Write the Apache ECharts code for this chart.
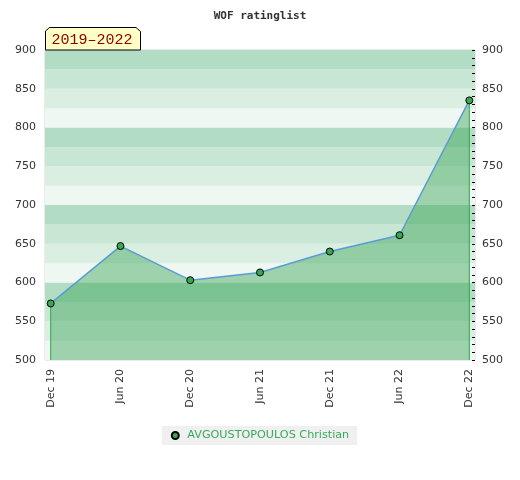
<!DOCTYPE html>
<html>
<head>
<meta charset="utf-8">
<style>
html,body{margin:0;padding:0;background:#fff;}
#chart{width:520px;height:480px;}
</style>
<script src="https://cdn.jsdelivr.net/npm/echarts@6/dist/echarts.min.js"></script>
</head>
<body>
<div id="chart"></div>
<script>
const categories = ['Dec 19', 'Jun 20', 'Dec 20', 'Jun 21', 'Dec 21', 'Jun 22', 'Dec 22'];
const ratings = [573, 647, 603, 613, 640, 661, 835];
const playerName = 'AVGOUSTOPOULOS Christian';
const chartTitle = 'WOF ratinglist';
const periodLabel = '2019–2022';
const yMin = 500;
const yMax = 900;
const bandColors = ['#eef7f2', '#dbeee2', '#c8e6d4', '#b3dcc4'];

const last = categories.length - 1;
const leftEdge = [[categories[0], yMin], [categories[0], ratings[0]]];
const rightEdge = [[categories[last], yMin], [categories[last], ratings[last]]];

const chart = echarts.init(document.getElementById('chart'), null, {renderer: 'canvas'});
const grid0 = {left: 45, right: 45, top: 50, bottom: 120};
chart.setOption({
  animation: false,
  title: {
    text: chartTitle,
    left: 'center',
    top: 6,
    textStyle: {fontFamily: 'DejaVu Sans Mono', fontWeight: 'bold', fontSize: 11, color: '#333'}
  },
  grid: [
    Object.assign({show: true, borderColor: '#d6d6d6', borderWidth: 1, backgroundColor: 'transparent'}, grid0),
    {left: 50.7, right: 50.7, top: 50, bottom: 120}
  ],
  xAxis: [
    {gridIndex: 0, type: 'value', min: 0, max: 1, show: false},
    {
      gridIndex: 1, type: 'category', data: categories, boundaryGap: false,
      axisLine: {show: false}, axisTick: {show: false}, splitLine: {show: false},
      axisLabel: {rotate: 90, margin: 9, color: '#333', fontFamily: 'DejaVu Sans', fontSize: 11, interval: 0}
    }
  ],
  yAxis: [
    {
      gridIndex: 0, type: 'value', min: yMin, max: yMax, interval: 25, position: 'left',
      axisLine: {show: false}, axisTick: {show: false}, splitLine: {show: false},
      splitArea: {show: true, areaStyle: {color: bandColors}},
      axisLabel: {interval: 1, margin: 9, color: '#333', fontFamily: 'DejaVu Sans', fontSize: 11,
        formatter: v => (v % 50 === 0 ? String(v) : '')}
    },
    {
      gridIndex: 0, type: 'value', min: yMin, max: yMax, interval: 10, position: 'right',
      axisLine: {show: false}, splitLine: {show: false}, splitArea: {show: false},
      axisTick: {show: true, inside: true, length: 3, lineStyle: {color: '#000', width: 1}},
      axisLabel: {margin: 7, color: '#333', fontFamily: 'DejaVu Sans', fontSize: 11,
        formatter: v => (v % 50 === 0 ? String(v) : '')}
    },
    {gridIndex: 1, type: 'value', min: yMin, max: yMax, show: false}
  ],
  legend: {
    data: [playerName],
    bottom: 35,
    left: 'center',
    backgroundColor: '#f0f0f0',
    padding: [4, 8, 4, 9],
    itemWidth: 14,
    itemHeight: 7,
    icon: 'circle',
    textStyle: {color: '#3aaa5c', fontFamily: 'DejaVu Sans', fontSize: 11.2}
  },
  series: [
    {
      name: playerName,
      type: 'line',
      xAxisIndex: 1, yAxisIndex: 2,
      data: ratings,
      symbol: 'circle',
      symbolSize: 7,
      itemStyle: {color: '#34a853', borderColor: '#000', borderWidth: 1},
      lineStyle: {color: '#5b9bd5', width: 1.5},
      areaStyle: {color: 'rgba(57,164,87,0.45)', opacity: 1, origin: 'start'},
      z: 3
    },
    {
      name: 'edgeL', type: 'line', xAxisIndex: 1, yAxisIndex: 2, data: leftEdge,
      symbol: 'none', lineStyle: {color: '#2ea44f', width: 1}, z: 2, silent: true
    },
    {
      name: 'edgeR', type: 'line', xAxisIndex: 1, yAxisIndex: 2, data: rightEdge,
      symbol: 'none', lineStyle: {color: '#2ea44f', width: 1}, z: 2, silent: true
    }
  ],
  graphic: [
    {
      type: 'polygon',
      shape: {points: [[45.5, 50], [45.5, 31], [49.5, 27.5], [136, 27.5], [140.5, 31.5], [140.5, 50]]},
      style: {fill: '#ffffc6', stroke: '#000', lineWidth: 1},
      z: 10
    },
    {
      type: 'text',
      x: 92, y: 40,
      style: {text: periodLabel, fill: '#8b0000', font: '15px "Liberation Mono"', align: 'center', verticalAlign: 'middle'},
      z: 11
    }
  ]
});
</script>
</body>
</html>
